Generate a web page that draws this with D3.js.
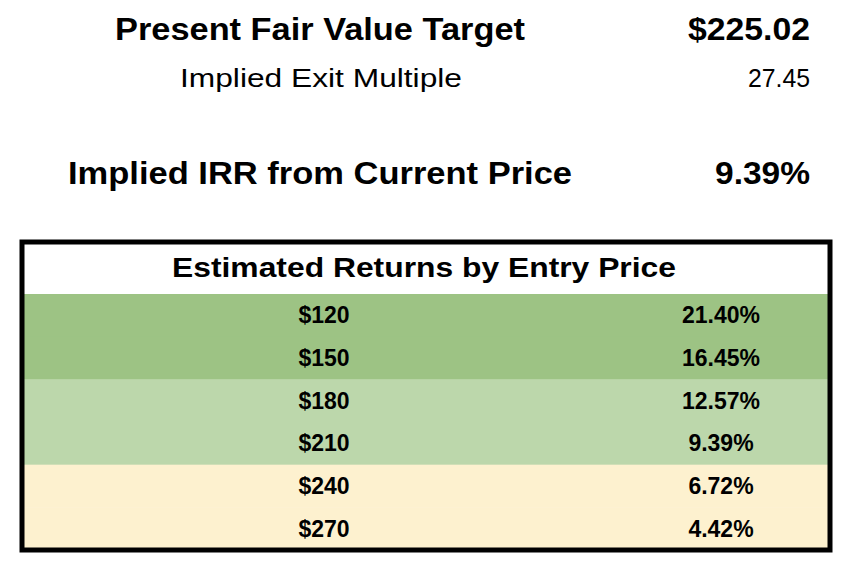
<!DOCTYPE html>
<html><head><meta charset="utf-8">
<script src="https://cdn.jsdelivr.net/npm/d3@7"></script>
<style>body{margin:0;background:#fff}text{font-family:"Liberation Sans",Arial,sans-serif}</style>
</head><body><svg id="chart"></svg>
<script>
// Summary values
const summaryLabels = ["Present Fair Value Target", "Implied Exit Multiple", "Implied IRR from Current Price"];
const summaryValues = ["$225.02", "27.45", "9.39%"];
const entryPrices = [120, 150, 180, 210, 240, 270];
const returns = [21.40, 16.45, 12.57, 9.39, 6.72, 4.42];
const bandColors = ["#9dc384", "#9dc384", "#bcd7ab", "#bcd7ab", "#fdf1cf", "#fdf1cf"];

const width = 851, height = 581;
const svg = d3.select("#chart").attr("width", width).attr("height", height);

// Top summary lines
const summaryY = [32, 80, 176], summarySize = [31, 26, 31], summaryBold = [true, false, true];
const labelSpan = [[115, 525], [180, 462], [68, 572]];
const valueSpan = [[688, 810], [748, 810], [715, 810]];
summaryLabels.forEach((s, i) => {
    svg.append("text").attr("x", labelSpan[i][0]).attr("y", summaryY[i])
        .attr("textLength", labelSpan[i][1] - labelSpan[i][0]).attr("lengthAdjust", "spacingAndGlyphs")
        .attr("dominant-baseline", "middle").attr("font-size", summarySize[i])
        .attr("font-weight", summaryBold[i] ? "bold" : "normal").text(s);
    svg.append("text").attr("x", valueSpan[i][0]).attr("y", summaryY[i])
        .attr("textLength", valueSpan[i][1] - valueSpan[i][0]).attr("lengthAdjust", "spacingAndGlyphs")
        .attr("dominant-baseline", "middle").attr("font-size", summarySize[i])
        .attr("font-weight", summaryBold[i] ? "bold" : "normal").text(summaryValues[i]);
});

// Table
const box = {left: 22, right: 830, top: 242, header: 294, bottom: 550};
const y = d3.scaleBand().domain(entryPrices).range([box.header, box.bottom]);

svg.selectAll(".row").data(entryPrices).enter().append("rect")
    .attr("x", box.left).attr("y", d => y(d))
    .attr("width", box.right - box.left).attr("height", y.bandwidth() + 0.5)
    .attr("fill", (d, i) => bandColors[i]);

svg.append("text").attr("x", 172).attr("y", (box.top + box.header) / 2 + 2)
    .attr("textLength", 504).attr("lengthAdjust", "spacingAndGlyphs")
    .attr("dominant-baseline", "middle")
    .attr("font-size", 28).attr("font-weight", "bold").text("Estimated Returns by Entry Price");

svg.selectAll(".price").data(entryPrices).enter().append("text")
    .attr("x", 324).attr("y", d => y(d) + y.bandwidth() / 2 + 2)
    .attr("text-anchor", "middle").attr("dominant-baseline", "middle")
    .attr("font-size", 23).attr("font-weight", "bold").text(d => "$" + d);

svg.selectAll(".ret").data(returns).enter().append("text")
    .attr("x", 721).attr("y", (d, i) => y(entryPrices[i]) + y.bandwidth() / 2 + 2)
    .attr("text-anchor", "middle").attr("dominant-baseline", "middle")
    .attr("font-size", 23).attr("font-weight", "bold").text(d => d.toFixed(2) + "%");

svg.append("rect").attr("x", box.left).attr("y", box.top)
    .attr("width", box.right - box.left).attr("height", box.bottom - box.top)
    .attr("fill", "none").attr("stroke", "#000").attr("stroke-width", 5);
</script></body></html>
